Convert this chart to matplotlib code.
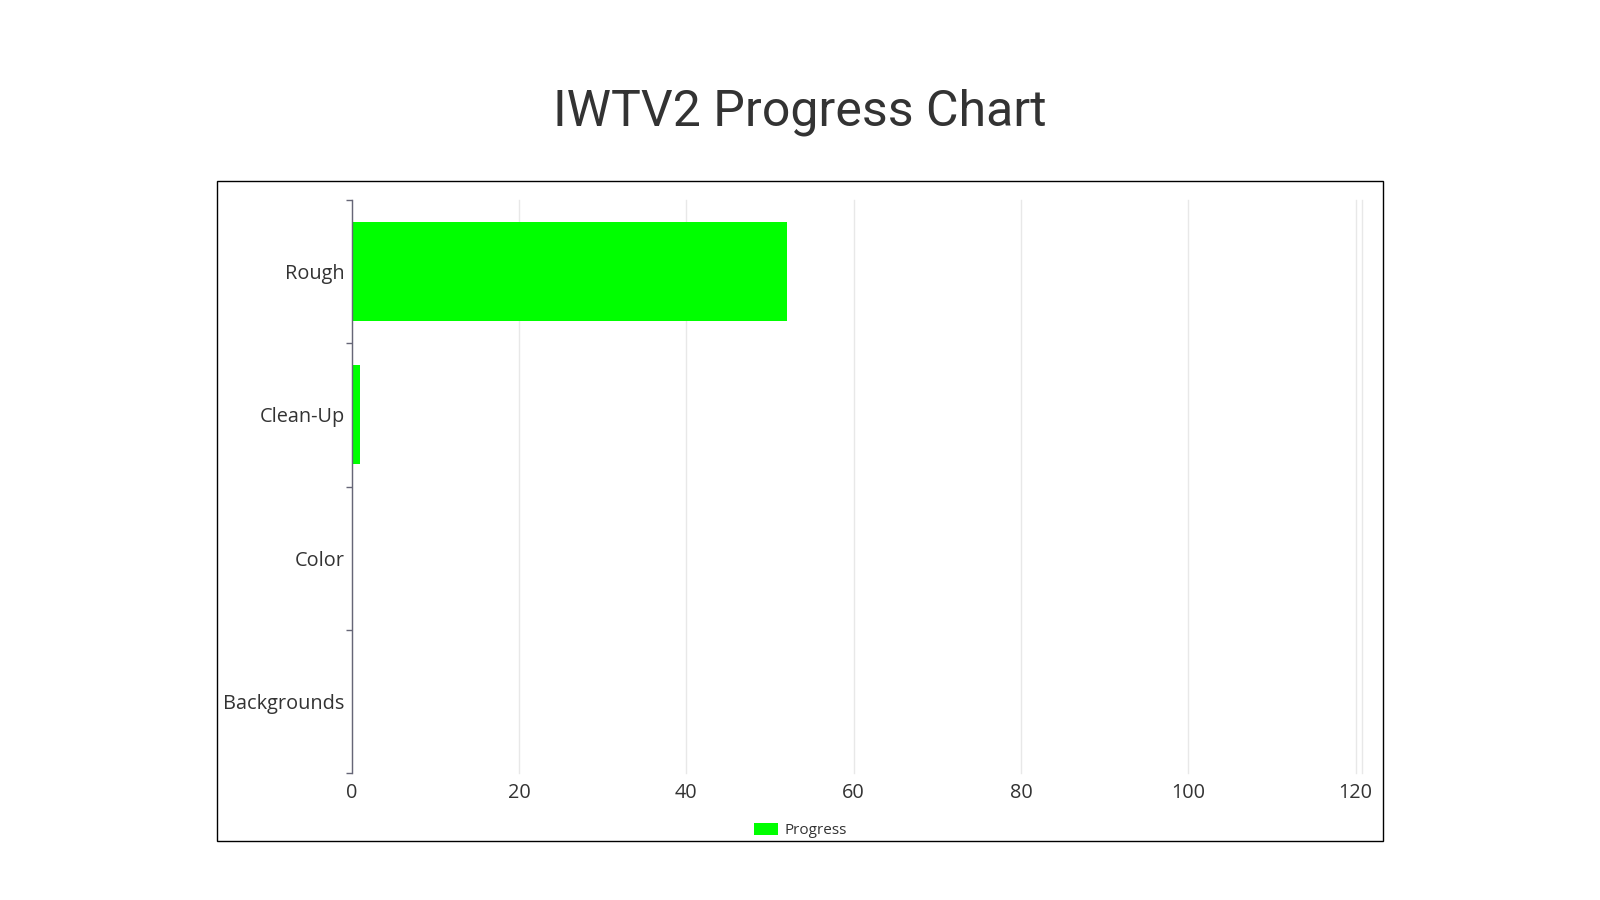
import matplotlib
matplotlib.use("Agg")
import matplotlib.pyplot as plt
from matplotlib.patches import Rectangle, Patch
import numpy as np

categories = ["Rough", "Clean-Up", "Color", "Backgrounds"]
progress = [52, 1, 0, 0]
x_ticks = [0, 20, 40, 60, 80, 100, 120]
series_name = "Progress"
title = "IWTV2 Progress Chart"

fig = plt.figure(figsize=(16, 9), dpi=100)
fig.patch.set_facecolor("white")

# outer frame
fig.patches.append(Rectangle((217/1600, 1-841/900), (1382.7-217)/1600, (841-181)/900,
                             transform=fig.transFigure, fill=False, edgecolor="black",
                             linewidth=1.0, zorder=0))

ax = fig.add_axes([351.7/1600, 1-773/900, (1362.3-351.7)/1600, (773-200)/900])
y = np.arange(len(categories))
ax.barh(y, progress, height=0.69, color="#00ff00", zorder=3)
ax.set_ylim(len(categories)-0.5, -0.5)
ax.set_xlim(0, 120.8)

ax.set_xticks(x_ticks)
ax.set_xticklabels([str(v) for v in x_ticks])
ax.set_yticks(y)
ax.set_yticklabels(categories)
ax.set_yticks(np.arange(len(categories)+1)-0.5, minor=True)

for v in x_ticks + [120.75]:
    ax.axvline(v, color="#e8e8e8", linewidth=1.0, zorder=1, clip_on=False)

for s in ["top", "right", "bottom"]:
    ax.spines[s].set_visible(False)
ax.spines["left"].set_color("#666677")
ax.spines["left"].set_linewidth(1.0)
ax.spines["left"].set_zorder(4)

ax.tick_params(axis="x", length=0, pad=7, labelcolor="#333333")
ax.tick_params(axis="y", which="major", length=0, pad=5, labelcolor="#333333")
ax.tick_params(axis="y", which="minor", length=4, width=1.0, color="#666677")
for lbl in ax.get_xticklabels() + ax.get_yticklabels():
    lbl.set_fontfamily(["Open Sans", "DejaVu Sans"])
    lbl.set_fontsize(14.3)

fig.text(0.5, 1-125/900, title, ha="center", va="baseline",
         fontsize=36, color="#333333", family=["Roboto", "DejaVu Sans"])

handle = Patch(facecolor="#00ff00", edgecolor="none")
leg = fig.legend([handle], [series_name], loc="center", bbox_to_anchor=(0.5, 1-830.5/900),
                 frameon=False, handlelength=1.6, handleheight=0.9, handletextpad=0.4,
                 prop=dict(family=["Open Sans", "DejaVu Sans"], size=11))
for t in leg.get_texts():
    t.set_color("#333333")

fig.savefig("out.png", dpi=100, facecolor="white")
